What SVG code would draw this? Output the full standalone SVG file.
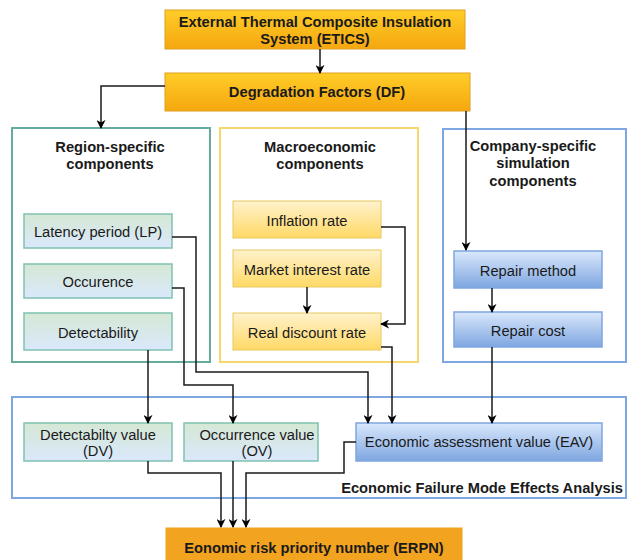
<svg xmlns="http://www.w3.org/2000/svg" width="627" height="560" viewBox="0 0 627 560">
<defs>
<linearGradient id="gOr" x1="0" y1="0" x2="0" y2="1"><stop offset="0" stop-color="#ffcd28"/><stop offset="1" stop-color="#f5a70f"/></linearGradient>
<linearGradient id="gGr" x1="0" y1="0" x2="0" y2="1"><stop offset="0" stop-color="#d5e8d4"/><stop offset="1" stop-color="#dae8fc"/></linearGradient>
<linearGradient id="gYe" x1="0" y1="0" x2="0" y2="1"><stop offset="0" stop-color="#fff2cc"/><stop offset="1" stop-color="#ffd966"/></linearGradient>
<linearGradient id="gBl" x1="0" y1="0" x2="0" y2="1"><stop offset="0" stop-color="#dae8fc"/><stop offset="1" stop-color="#7ea6e0"/></linearGradient>
<marker id="ar" viewBox="0 0 10 10" refX="9" refY="5" markerWidth="9" markerHeight="9" markerUnits="userSpaceOnUse" orient="auto"><path d="M0,0 L10,5 L0,10 L3,5 Z" fill="#000"/></marker>
</defs>
<style>
text{font-family:"Liberation Sans",Arial,sans-serif;fill:#1a1a1a;text-anchor:middle}
.b{font-weight:bold;font-size:14.7px}
.n{font-size:14.7px}
.or{fill:url(#gOr);stroke:#e0a020;stroke-width:1}
.gr{fill:url(#gGr);stroke:#7fc2b0;stroke-width:1.5}
.ye{fill:url(#gYe);stroke:#e8c860;stroke-width:1}
.bl{fill:url(#gBl);stroke:#7ea6e0;stroke-width:1.5}
.c{fill:none;stroke:#1a1a1a;stroke-width:1.5}
.ca{fill:none;stroke:#1a1a1a;stroke-width:1.5;marker-end:url(#ar)}
</style>
<rect width="627" height="560" fill="#fff"/>

<g id="region">
<rect x="12" y="128" width="198" height="234" fill="#fff" stroke="#67ab9f" stroke-width="2"/>
<text class="b" x="110" y="152">Region-specific</text>
<text class="b" x="110" y="169">components</text>
</g>
<g id="macro">
<rect x="220" y="128" width="198" height="234" fill="#fff" stroke="#f5d76e" stroke-width="2"/>
<text class="b" x="320" y="152">Macroeconomic</text>
<text class="b" x="320" y="169">components</text>
</g>
<g id="company">
<rect x="443" y="129" width="183" height="233" fill="#fff" stroke="#7ea6e0" stroke-width="2"/>
<text class="b" x="533" y="151">Company-specific</text>
<text class="b" x="533" y="168">simulation</text>
<text class="b" x="533" y="186">components</text>
</g>
<g id="efma">
<rect x="12" y="397" width="614" height="101" fill="#fff" stroke="#7ea6e0" stroke-width="2"/>
<text class="b" x="623" y="493" style="text-anchor:end">Economic Failure Mode Effects Analysis</text>
</g>

<g id="etics">
<rect class="or" x="165" y="10" width="300" height="39"/>
<text class="b" x="315" y="27">External Thermal Composite Insulation</text>
<text class="b" x="315" y="44">System (ETICS)</text>
</g>
<g id="df">
<rect class="or" x="165" y="73" width="305" height="38"/>
<text class="b" x="317" y="97">Degradation Factors (DF)</text>
</g>

<g id="lp"><rect class="gr" x="24" y="214" width="148" height="34"/><text class="n" x="98" y="237">Latency period (LP)</text></g>
<g id="occ"><rect class="gr" x="24" y="264" width="148" height="34"/><text class="n" x="98" y="287">Occurence</text></g>
<g id="det"><rect class="gr" x="24" y="313" width="148" height="37"/><text class="n" x="98" y="338">Detectability</text></g>

<g id="infl"><rect class="ye" x="233" y="201" width="148" height="37"/><text class="n" x="307" y="226">Inflation rate</text></g>
<g id="mir"><rect class="ye" x="233" y="250" width="148" height="37"/><text class="n" x="307" y="275">Market interest rate</text></g>
<g id="rdr"><rect class="ye" x="233" y="313" width="148" height="37"/><text class="n" x="307" y="338">Real discount rate</text></g>

<g id="rm"><rect class="bl" x="454" y="251" width="148" height="37"/><text class="n" x="528" y="276">Repair method</text></g>
<g id="rc"><rect class="bl" x="454" y="312" width="148" height="35"/><text class="n" x="528" y="336">Repair cost</text></g>

<g id="dv"><rect class="gr" x="24" y="423" width="148" height="38"/><text class="n" x="98" y="440">Detectabilty value</text><text class="n" x="98" y="456">(DV)</text></g>
<g id="ov"><rect class="gr" x="184" y="423" width="134" height="38"/><text class="n" x="257" y="440">Occurrence value</text><text class="n" x="257" y="456">(OV)</text></g>
<g id="eav"><rect class="bl" x="356" y="423" width="246" height="38"/><text class="n" x="479" y="447">Economic assessment value (EAV)</text></g>

<g id="erpn"><rect x="166" y="528" width="296" height="40" fill="#f2a31f" stroke="#f2a31f"/><text class="b" x="314" y="553">Eonomic risk priority number (ERPN)</text></g>

<g id="connectors">
<path class="ca" d="M320,49 V73"/>
<path class="ca" d="M165,86 H101 V128"/>
<path class="ca" d="M466,111 V250"/>
<path class="ca" d="M492,288 V312"/>
<path class="ca" d="M492,347 V423"/>
<path class="ca" d="M307,287 V313"/>
<path class="ca" d="M381,227 H405 V324 H381"/>
<path class="ca" d="M381,347 H392 V423"/>
<path class="ca" d="M172,237 H196 V372 H368 V423"/>
<path class="ca" d="M172,288 H184 V385 H233 V423"/>
<path class="ca" d="M148,350 V423"/>
<path class="ca" d="M148,461 V473 H221 V527"/>
<path class="ca" d="M233,461 V527"/>
<path class="ca" d="M356,442 H344 V473 H246 V527"/>
</g>
</svg>
